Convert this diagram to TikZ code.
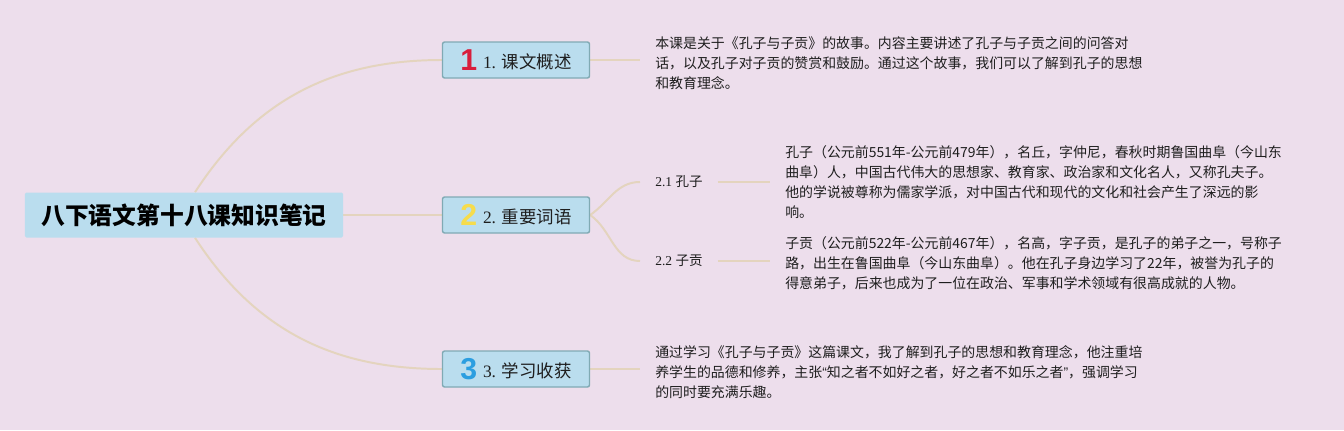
\documentclass[tikz,border=0pt]{standalone}
\usepackage{fontspec}
\usetikzlibrary{backgrounds}
\setmainfont{Liberation Serif}
\newfontfamily\cjk{Noto Sans CJK SC}
\newfontfamily\numfont{Liberation Sans}
\definecolor{bgpink}{RGB}{237,222,236}
\definecolor{boxblue}{RGB}{186,221,238}
\definecolor{boxedge}{RGB}{128,170,180}
\definecolor{branch}{RGB}{228,212,190}
\definecolor{inkgray}{RGB}{30,30,30}
\definecolor{numred}{RGB}{216,30,60}
\definecolor{numyellow}{RGB}{246,220,76}
\definecolor{numblue}{RGB}{43,158,224}
\newcommand{\bignum}[2]{\raisebox{-1.5pt}{\numfont\bfseries\fontsize{21.5}{22}\selectfont\color{#1}#2}}
\begin{document}
\begin{tikzpicture}[
  x=0.25mm, y=-0.25mm,
  rootbox/.style={rectangle, rounded corners=1pt, fill=boxblue, text=black,
    minimum width=79.5mm, minimum height=11.25mm, inner sep=0pt,
    font=\cjk\bfseries\fontsize{16.9}{18}\selectfont},
  secbox/.style={rectangle, rounded corners=1.5pt, draw=boxedge, line width=1pt, fill=boxblue,
    text=inkgray, minimum width=36.75mm, minimum height=9mm, inner sep=0pt,
    font=\fontsize{12.4}{14}\selectfont},
  sublabel/.style={inner xsep=3.75mm, inner ysep=0pt, text=inkgray,
    font=\fontsize{9.6}{12}\selectfont},
  desc/.style={anchor=west, align=left, inner xsep=3.75mm, inner ysep=0pt, text=inkgray,
    font=\cjk\fontsize{9.9}{14.2}\selectfont},
  branchline/.style={draw=branch, line width=1.4pt},
  ]
 \begin{scope}[on background layer]
 \fill[bgpink] (0,0) rectangle (1344,430);
 \end{scope}

 % centre and the three sections
 \node [rootbox] (root) at (184,215) {八下语文第十八课知识笔记};
 \node [secbox] (sec1) at (516,60) {\bignum{numred}{1}\,\,1. {\cjk 课文概述}};
 \node [secbox] (sec2) at (516,215) {\bignum{numyellow}{2}\,\,2. {\cjk 重要词语}};
 \node [secbox] (sec3) at (516,369) {\bignum{numblue}{3}\,\,3. {\cjk 学习收获}};

 \node [sublabel, anchor=west] (kongzi) at (640,182) {2.1 {\cjk 孔子}};
 \node [sublabel, anchor=west] (zigong) at (640,261) {2.2 {\cjk 子贡}};

 \node [desc] (desc1) at (640,63) {本课是关于《孔子与子贡》的故事。内容主要讲述了孔子与子贡之间的问答对\\
   话，以及孔子对子贡的赞赏和鼓励。通过这个故事，我们可以了解到孔子的思想\\
   和教育理念。};
 \node [desc] (desc21) at (770,182) {孔子（公元前551年-公元前479年），名丘，字仲尼，春秋时期鲁国曲阜（今山东\\
   曲阜）人，中国古代伟大的思想家、教育家、政治家和文化名人，又称孔夫子。\\
   他的学说被尊称为儒家学派，对中国古代和现代的文化和社会产生了深远的影\\
   响。};
 \node [desc] (desc22) at (770,263) {子贡（公元前522年-公元前467年），名高，字子贡，是孔子的弟子之一，号称子\\
   路，出生在鲁国曲阜（今山东曲阜）。他在孔子身边学习了22年，被誉为孔子的\\
   得意弟子，后来也成为了一位在政治、军事和学术领域有很高成就的人物。};
 \node [desc] (desc3) at (640,372) {通过学习《孔子与子贡》这篇课文，我了解到孔子的思想和教育理念，他注重培\\
   养学生的品德和修养，主张{\numfont “}知之者不如好之者，好之者不如乐之者{\numfont ”}，强调学习\\
   的同时要充满乐趣。};

 % branches
 \begin{scope}[on background layer]
 \draw [branchline] ([xshift=2.75mm]root.north) to[out=57, in=180] (sec1.west);
 \draw [branchline] (root.east) -- (sec2.west);
 \draw [branchline] ([xshift=2.75mm]root.south) to[out=-57, in=180] (sec3.west);
 \draw [branchline] (sec1.east) -- (sec1.east -| desc1.west);
 \draw [branchline] (sec3.east) -- (sec3.east -| desc3.west);
 \draw [branchline] (sec2.east) to[out=35, in=180] (kongzi.west);
 \draw [branchline] (sec2.east) to[out=-35, in=180] (zigong.west);
 \draw [branchline] (kongzi.east) -- (desc21.west |- kongzi.east);
 \draw [branchline] (zigong.east) -- (desc22.west |- zigong.east);
 \end{scope}
\end{tikzpicture}
\end{document}
